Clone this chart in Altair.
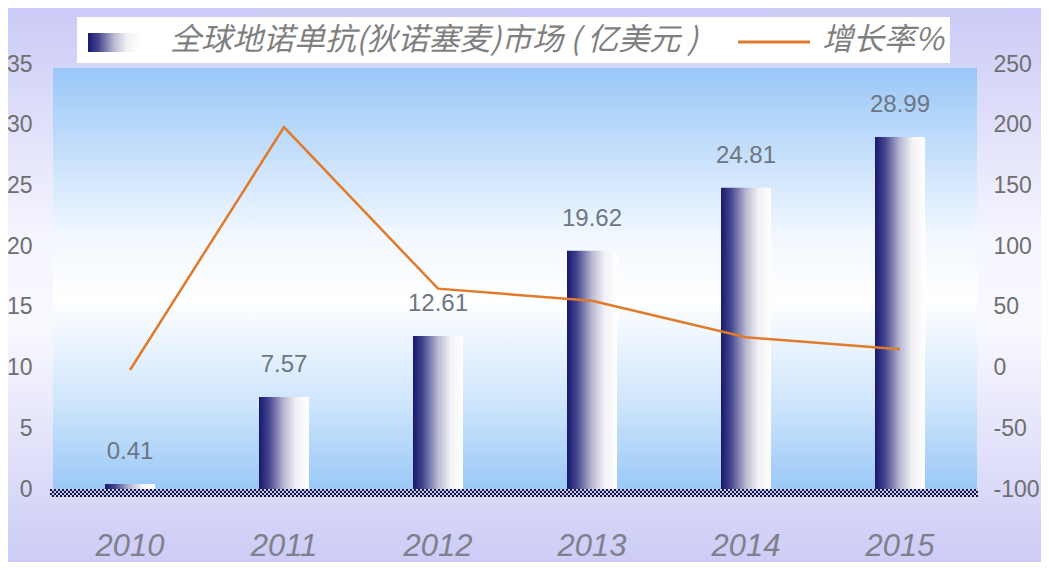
import altair as alt
import pandas as pd

# ---- data ----
years = ["2010", "2011", "2012", "2013", "2014", "2015"]
market = [0.41, 7.57, 12.61, 19.62, 24.81, 28.99]
market_labels = ["0.41", "7.57", "12.61", "19.62", "24.81", "28.99"]
growth = [-2, 198, 65, 55, 25, 15]
left_ticks = [0, 5, 10, 15, 20, 25, 30, 35]
right_ticks = [-100, -50, 0, 50, 100, 150, 200, 250]
series_bar = "全球地诺单抗(狄诺塞麦)市场 ( 亿美元 )"
series_line = "增长率%"

# ---- layout ----
W, H = 924, 425
PAD = {"left": 45, "top": 56, "right": 64, "bottom": 73}

df = pd.DataFrame({"year": years, "market": market, "label": market_labels, "growth": growth})
one = alt.Data(values=[{"k": 0}])

NUM_FONT = "Liberation Sans"
CJK_FONT = "Noto Sans CJK SC"
ORANGE = "#E07B2C"


def lg(stops, x1=0, y1=0, x2=0, y2=1):
    return alt.LinearGradient(
        gradient="linear", x1=x1, y1=y1, x2=x2, y2=y2,
        stops=[alt.GradientStop(offset=o, color=c) for o, c in stops],
    )


outer_grad = lg([(0, "#CACAF6"), (0.42, "#F6F6FF"), (0.58, "#F8F8FF"), (1, "#CCCCF6")])
plot_grad = lg([(0, "#99C7F7"), (0.4, "#F2F8FF"), (0.55, "#FFFFFF"), (0.78, "#D2E7FC"), (1, "#9BC9F7")])
bar_grad = lg([(0, "#18186F"), (0.2, "#45458F"), (0.5, "#B9B9D2"), (0.75, "#F2F2F6"), (1, "#FFFFFF")], x2=1, y2=0)

x_axis = alt.Axis(
    title=None, labelAngle=0, labelFont=NUM_FONT, labelFontStyle="italic",
    labelFontSize=31, labelColor="#80808C", labelPadding=57, labelBaseline="middle",
    ticks=False, tickSize=0, domain=False, grid=False, zindex=2,
)
xenc = alt.X("year:N", sort=years, scale=alt.Scale(paddingInner=0, paddingOuter=0), axis=x_axis)

left_axis = alt.Axis(
    title=None, orient="left", values=left_ticks, grid=False, ticks=False, tickSize=0,
    domain=False, labelPadding=21, labelFontSize=23, labelColor="#6F6F6F", labelFont=NUM_FONT,
    zindex=2,
)
right_axis = alt.Axis(
    title=None, orient="right", values=right_ticks, grid=False, ticks=False, tickSize=0,
    domain=False, labelPadding=16, labelFontSize=23, labelColor="#6F6F6F", labelFont=NUM_FONT,
    labelExpr="'' + datum.value", zindex=2,
)
yl = alt.Y("market:Q", scale=alt.Scale(domain=[0, 35], nice=False, zero=True), axis=left_axis)
yr = alt.Y("growth:Q", scale=alt.Scale(domain=[-100, 250], nice=False, zero=False), axis=right_axis)

# ---- backgrounds ----
outer = alt.Chart(one).mark_rect(fill=outer_grad).encode(
    x=alt.value(-PAD["left"]), x2=alt.value(W + PAD["right"]),
    y=alt.value(-PAD["top"]), y2=alt.value(H + PAD["bottom"]),
)
plotbg = alt.Chart(one).mark_rect(fill=plot_grad).encode(
    x=alt.value(0), x2=alt.value(W), y=alt.value(4), y2=alt.value(H),
)

# ---- data marks ----
bars = alt.Chart(df).mark_bar(size=50, fill=bar_grad).encode(x=xenc, y=yl)
labels = alt.Chart(df).mark_text(
    dy=-25, baseline="alphabetic", fontSize=24, color="#6E7684", font=NUM_FONT
).encode(x=xenc, y=yl, text="label:N")
left_layer = alt.layer(bars, labels)

line = alt.Chart(df).mark_line(color=ORANGE, strokeWidth=2.5).encode(x=xenc, y=yr)

# ---- checkered baseline ----
band_layers = [
    alt.Chart(one).mark_rule(color="#C8CCEA", strokeWidth=8).encode(
        x=alt.value(-3), x2=alt.value(W + 1), y=alt.value(H + 4)
    )
]
for i, yy in enumerate([H + 1, H + 3, H + 5, H + 7]):
    band_layers.append(
        alt.Chart(one).mark_rule(
            color="#14144A", strokeWidth=2, strokeDash=[2, 2], strokeDashOffset=(2 if i % 2 else 0)
        ).encode(x=alt.value(-3), x2=alt.value(W + 1), y=alt.value(yy))
    )

# ---- legend ----
leg_box = alt.Chart(one).mark_rect(fill="#FFFFFF").encode(
    x=alt.value(24), x2=alt.value(897), y=alt.value(-47), y2=alt.value(-1)
)
leg_swatch = alt.Chart(one).mark_rect(fill=bar_grad).encode(
    x=alt.value(35), x2=alt.value(87), y=alt.value(-31), y2=alt.value(-12)
)
leg_text1 = alt.Chart(one).mark_text(
    text=series_bar, align="left", baseline="middle", fontSize=31, fontStyle="italic",
    color="#7F7F7F", font=CJK_FONT,
).encode(x=alt.value(117), y=alt.value(-23))
leg_line = alt.Chart(one).mark_rule(color=ORANGE, strokeWidth=3).encode(
    x=alt.value(685), x2=alt.value(757), y=alt.value(-22)
)
leg_text2 = alt.Chart(one).mark_text(
    text=series_line, align="left", baseline="middle", fontSize=31, fontStyle="italic",
    color="#7F7F7F", font=CJK_FONT,
).encode(x=alt.value(769), y=alt.value(-23))

chart = alt.layer(
    outer, plotbg, left_layer, line, *band_layers,
    leg_box, leg_swatch, leg_text1, leg_line, leg_text2,
).resolve_scale(y="independent").properties(
    width=W, height=H, padding=PAD, autosize=alt.AutoSizeParams(type="none"),
    background="#CCCCF6",
).configure_view(strokeWidth=0)

chart.save("out.html", embed_options={"renderer": "svg", "actions": False})
